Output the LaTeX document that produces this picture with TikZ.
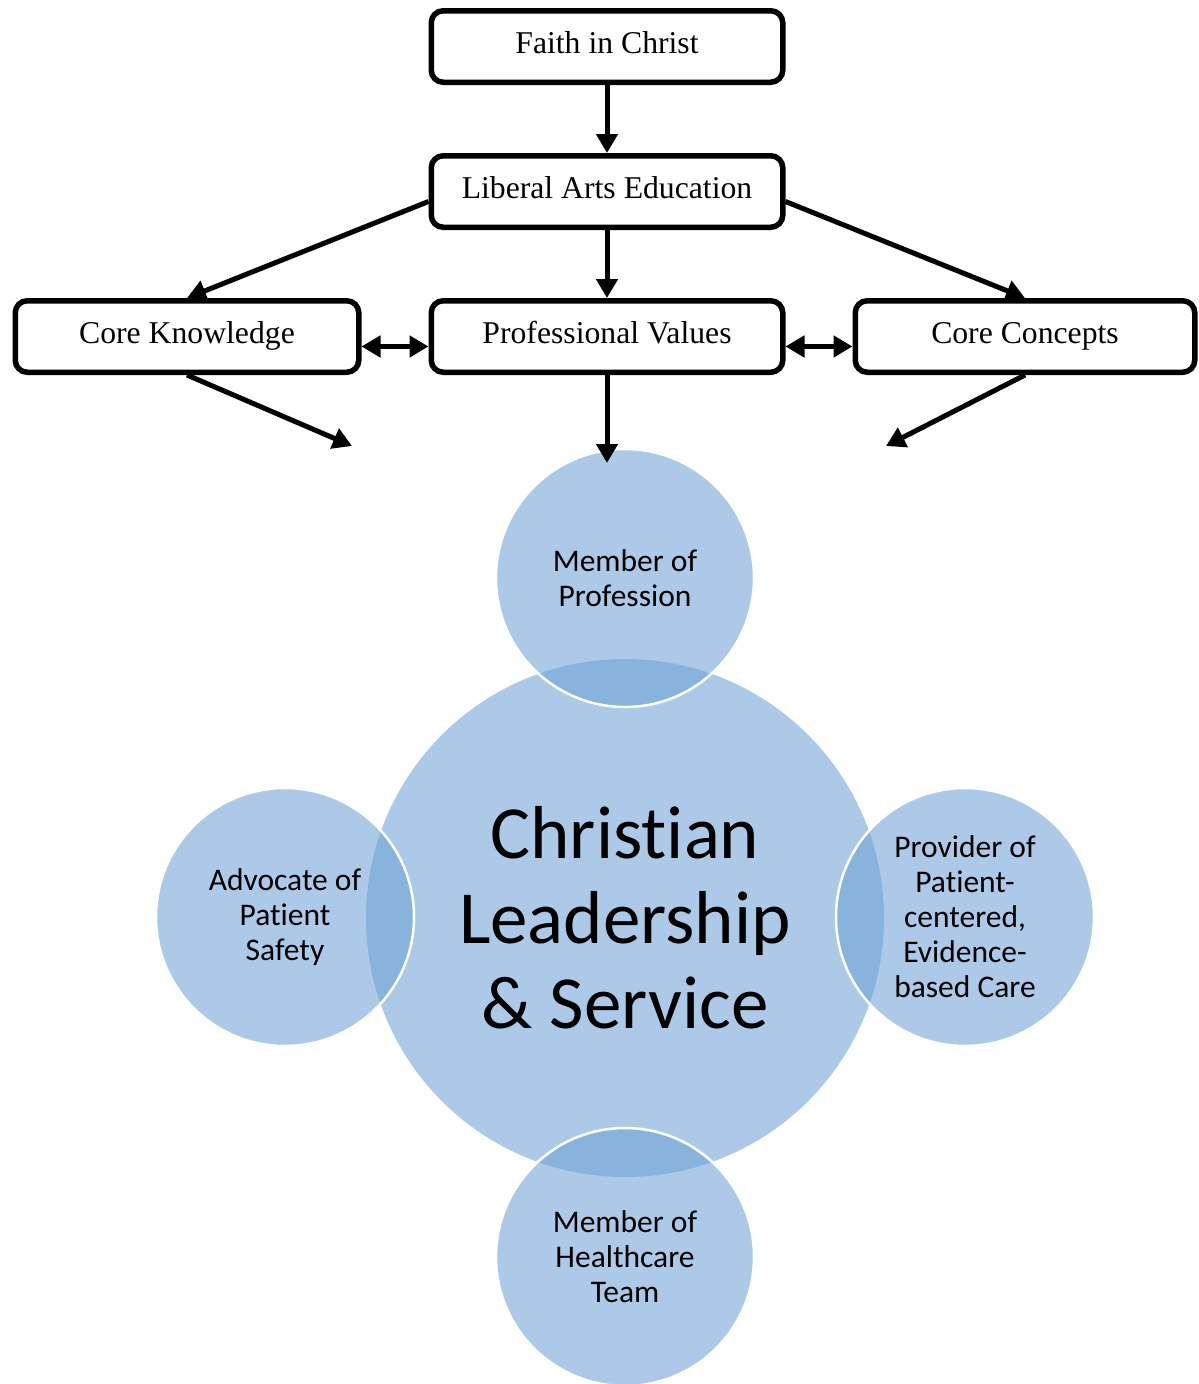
\documentclass[tikz,border=0pt]{standalone}
\usepackage{fontspec}
\setmainfont{Liberation Serif}
\newfontfamily\calibri[Ligatures=NoCommon]{Carlito}
\usetikzlibrary{arrows.meta,positioning}
\definecolor{ringblue}{RGB}{104,159,211}

\begin{document}
\begin{tikzpicture}[
  x=1pt, y=-1pt,
  box/.style = {draw, rounded corners=12pt, line width=5.5pt, minimum width=351.5pt, minimum height=71.5pt, text height=22pt, text depth=8pt, font=\fontsize{31.7}{38}\selectfont},
  link/.style = {-{Triangle[length=19pt,width=21pt]}, line width=5pt},
  twoway/.style = {{Triangle[length=19pt,width=21pt]}-{Triangle[length=19pt,width=21pt]}, line width=5pt},
  hub/.style = {circle, fill=ringblue, fill opacity=0.55, text opacity=1, minimum size=518pt, inner sep=0pt, align=center, font=\calibri\fontsize{75}{85}\selectfont},
  role/.style = {circle, fill=ringblue, fill opacity=0.55, text opacity=1, draw=white, line width=2.5pt, minimum size=258pt, inner sep=0pt, align=center, font=\calibri\fontsize{31.5}{35}\selectfont},
  node distance = 68pt and 67pt
]
  \useasboundingbox (0,0) rectangle (1199,1384);

  % boxes
  \node[box] (faith) at (607,46.5) {Faith in Christ};
  \node[box, below=of faith] (liberal) {Liberal Arts Education};
  \node[box, below=of liberal] (values) {Professional Values};
  \node[box, left=of values, minimum width=343.5pt] (knowledge) {Core Knowledge};
  \node[box, right=of values, minimum width=339.5pt] (concepts) {Core Concepts};

  % circles
  \node[hub] (hub) at (625,918) {Christian\\Leadership\\\& Service};
  \node[role] (profession) at (625,578) {Member of\\Profession};
  \node[role] (advocate) at (285,917) {Advocate of\\Patient\\Safety};
  \node[role] (provider) at (965,917) {Provider of\\Patient-\\centered,\\Evidence-\\based Care};
  \node[role] (team) at (625,1257) {Member of\\Healthcare\\Team};

  % arrows
  \coordinate (knowledgeend) at (352,446);
  \coordinate (valuesend) at (607,463);
  \coordinate (conceptsend) at (886,446);
  \draw[link] (faith.south) -- (liberal.north);
  \draw[link] (liberal.south) -- (values.north);
  \draw[link] ([yshift=-10pt]liberal.west) -- (knowledge.north);
  \draw[link] ([yshift=-10pt]liberal.east) -- (concepts.north);
  \draw[twoway] ([yshift=-10pt]knowledge.east) -- ([yshift=-10pt]values.west);
  \draw[twoway] ([yshift=-10pt]values.east) -- ([yshift=-10pt]concepts.west);
  \draw[link] (knowledge.south) -- (knowledgeend);
  \draw[link] (values.south) -- (valuesend);
  \draw[link] (concepts.south) -- (conceptsend);
\end{tikzpicture}
\end{document}
